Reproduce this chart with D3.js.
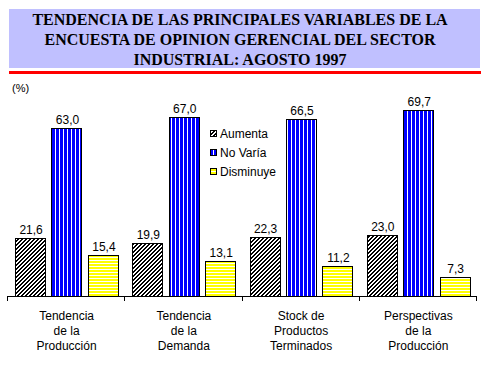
<!DOCTYPE html>
<html><head><meta charset="utf-8">
<script src="https://cdn.jsdelivr.net/npm/d3@7"></script>
<style>body{margin:0;background:#fff}svg{display:block}</style>
</head><body>
<script>
const titleLines = ["TENDENCIA DE LAS PRINCIPALES VARIABLES DE LA","ENCUESTA DE OPINION GERENCIAL DEL SECTOR","INDUSTRIAL: AGOSTO 1997"];
const categories = [["Tendencia","de la","Producción"],["Tendencia","de la","Demanda"],["Stock de","Productos","Terminados"],["Perspectivas","de la","Producción"]];
const seriesNames = ["Aumenta","No Varía","Disminuye"];
const aumenta = [21.6,19.9,22.3,23.0];
const noVaria = [63.0,67.0,66.5,69.7];
const disminuye = [15.4,13.1,11.2,7.3];
const unitLabel = "(%)";

const W=490,H=367;
const svg=d3.select("body").append("svg").attr("width",W).attr("height",H);
const defs=svg.append("defs");
// hatch (pixel pattern, "/" direction)
const p1=defs.append("pattern").attr("id","hatch").attr("patternUnits","userSpaceOnUse").attr("width",4).attr("height",4);
p1.append("rect").attr("width",4).attr("height",4).attr("fill","#fff");
const hpix=[];
for(let px=0;px<4;px++)for(let py=0;py<4;py++)if((px+py)%4<2)hpix.push([px,py]);
p1.selectAll("rect.px").data(hpix).enter().append("rect").attr("x",d=>d[0]).attr("y",d=>d[1]).attr("width",1).attr("height",1)
  .attr("fill","#000").attr("shape-rendering","crispEdges");
// vertical stripes
const p2=defs.append("pattern").attr("id","vstripe").attr("patternUnits","userSpaceOnUse").attr("width",4).attr("height",4);
p2.append("rect").attr("width",4).attr("height",4).attr("fill","#0000ff");
p2.append("rect").attr("x",3).attr("width",1).attr("height",4).attr("fill","#fff");
// horizontal stripes
const p3=defs.append("pattern").attr("id","hstripe").attr("patternUnits","userSpaceOnUse").attr("width",3).attr("height",3);
p3.append("rect").attr("width",3).attr("height",3).attr("fill","#ffff00");
p3.append("rect").attr("y",2).attr("width",3).attr("height",1).attr("fill","#fff");
const fills=["url(#hatch)","url(#vstripe)","url(#hstripe)"];

// title
svg.append("rect").attr("x",9).attr("y",9).attr("width",471).attr("height",59).attr("fill","#c0c0ff");
svg.append("rect").attr("x",9).attr("y",71).attr("width",472).attr("height",3).attr("fill","#ff0000");
svg.selectAll("text.title").data(titleLines).enter().append("text")
  .attr("x",240).attr("y",(d,i)=>25+i*20).attr("text-anchor","middle")
  .attr("font-family","Liberation Serif, Times New Roman, serif").attr("font-weight","bold").attr("font-size",16)
  .text(d=>d);

svg.append("text").attr("x",12).attr("y",92).attr("font-family","Liberation Sans, Arial, sans-serif").attr("font-size",11).text(unitLabel);

const x0=d3.scaleBand().domain(d3.range(categories.length)).range([7,476]).paddingInner(0).paddingOuter(0);
const x1=d3.scaleBand().domain(d3.range(3)).range([8,111]).paddingInner(0.17).paddingOuter(0);
const y=d3.scaleLinear().domain([0,75]).range([296,96]);

const series=[aumenta,noVaria,disminuye];
const font="Liberation Sans, Arial, sans-serif";
series.forEach((vals,s)=>{
  const g=svg.append("g");
  g.selectAll("rect").data(vals).enter().append("rect")
    .attr("x",(d,i)=>Math.round(x0(i)+x1(s))+0.5).attr("y",d=>Math.round(y(d))+0.5).attr("width",Math.round(x1.bandwidth()))
    .attr("height",d=>Math.round(y(0))-Math.round(y(d)))
    .attr("fill",fills[s]).attr("stroke","#000").attr("stroke-width",1);
  g.selectAll("text").data(vals).enter().append("text")
    .attr("x",(d,i)=>x0(i)+x1(s)+x1.bandwidth()/2+1).attr("y",d=>y(d)-4).attr("text-anchor","middle")
    .attr("font-family",font).attr("font-size",12).text(d=>d.toFixed(1).replace(".",","));
});

// axis
const axis=d3.axisBottom(x0).tickSize(0).tickFormat("");
const ag=svg.append("g").attr("transform","translate(0,296)").call(axis);
ag.select(".domain").attr("d","M7,0.5H476").attr("stroke","#000").attr("shape-rendering","crispEdges");
ag.selectAll(".tick").remove();
const bounds=d3.range(categories.length+1).map(i=>i<categories.length?x0(i):x0.range()[1]);
ag.selectAll("line.b").data(bounds).enter().append("line").attr("x1",d=>Math.round(d)+0.5).attr("x2",d=>Math.round(d)+0.5).attr("y1",0).attr("y2",5)
  .attr("stroke","#000").attr("shape-rendering","crispEdges");
categories.forEach((lines,i)=>{
  svg.append("text").attr("text-anchor","middle").attr("font-family",font).attr("font-size",12)
    .selectAll("tspan").data(lines).enter().append("tspan")
    .attr("x",x0(i)+x0.bandwidth()/2+1).attr("y",(d,j)=>320+j*15).text(d=>d);
});

// legend
const lg=svg.append("g").attr("transform","translate(210,130)");
seriesNames.forEach((n,i)=>{
  lg.append("rect").attr("x",0.5).attr("y",i*19+0.5).attr("width",6).attr("height",6).attr("fill",fills[i]).attr("stroke","#000");
  lg.append("text").attr("x",10).attr("y",i*19+8).attr("font-family",font).attr("font-size",12).text(n);
});
</script>
</body></html>
